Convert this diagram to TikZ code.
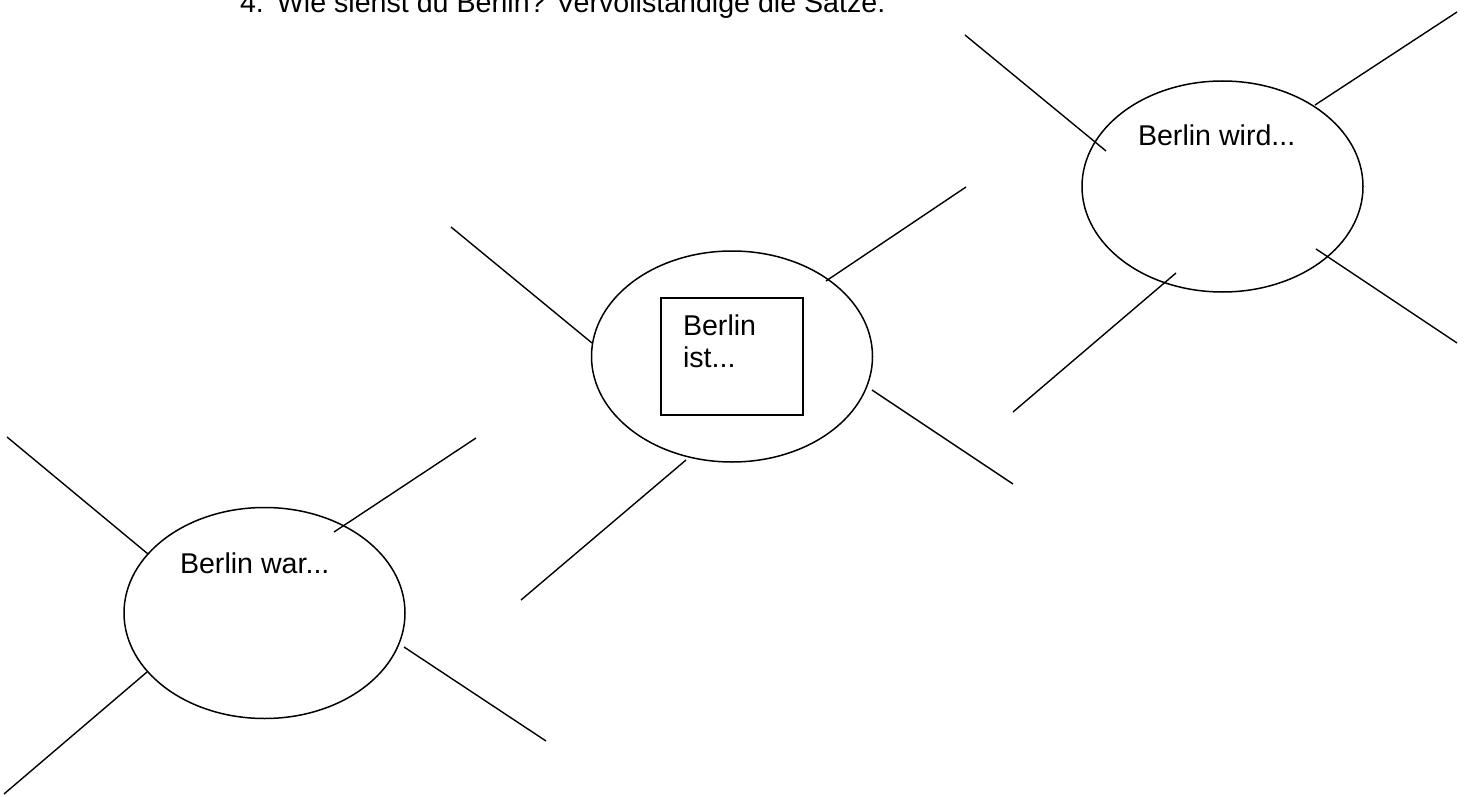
\documentclass[tikz,border=0pt]{standalone}
\usepackage{fontspec}
\setmainfont{Liberation Sans}
\usetikzlibrary{shapes.geometric}

\tikzset{
  bubble/.style={draw, ellipse, line width=1.5pt, inner sep=0pt, outer sep=0pt,
                 minimum width=281pt, minimum height=211pt},
  spoke/.style={line width=1.4pt},
  frame/.style={draw, line width=1.4pt, inner sep=0pt, outer sep=0pt,
                minimum width=142pt, minimum height=117pt},
  label/.style={anchor=base west, inner sep=0pt, outer sep=0pt,
                font=\fontsize{28.6}{32}\selectfont},
}

\begin{document}
\begin{tikzpicture}[x=1pt, y=-1pt]
  \useasboundingbox (0,0) rectangle (1465,797);

  % heading, partly above the top edge
  \node[label] (title) at (240,13)
    {\makebox[37pt][l]{4.}Wie siehst du Berlin? Vervollständige die Sätze:};

  % the three bubbles
  \node[bubble] (war)  at (264.5,613) {};
  \node[bubble] (ist)  at (732,356.5) {};
  \node[bubble] (wird) at (1222.5,186.5) {};

  % square inside the middle bubble
  \node[frame] (box) at (732,356.5) {};

  % bubble texts
  \node[label] (twar)  at (180,573) {Berlin war...};
  \node[label] (tist)  at (683,335) {Berlin};
  \node[label] (tist2) at (683,367) {ist...};
  \node[label] (twird) at (1138,146) {Berlin wird...};

  % spoke end points: past bubble "war"
  \coordinate (w1a) at (148,554);  \coordinate (w1b) at (7,437);
  \coordinate (w2a) at (334,532);  \coordinate (w2b) at (476,438);
  \coordinate (w3a) at (147,672);  \coordinate (w3b) at (4,794);
  \coordinate (w4a) at (404,647);  \coordinate (w4b) at (546,741);

  % spoke end points: present bubble "ist"
  \coordinate (i1a) at (592,343);  \coordinate (i1b) at (451,227);
  \coordinate (i2a) at (826,281);  \coordinate (i2b) at (966,187);
  \coordinate (i3a) at (686,460);  \coordinate (i3b) at (521,600);
  \coordinate (i4a) at (872,390);  \coordinate (i4b) at (1013,484);

  % spoke end points: future bubble "wird"
  \coordinate (f1a) at (1106,151); \coordinate (f1b) at (965,35);
  \coordinate (f2a) at (1315,105); \coordinate (f2b) at (1457,12);
  \coordinate (f3a) at (1176,273); \coordinate (f3b) at (1013,412);
  \coordinate (f4a) at (1316,249); \coordinate (f4b) at (1457,343);

  \foreach \s in {w,i,f}
    \foreach \k in {1,2,3,4}
      \draw[spoke] (\s\k a) -- (\s\k b);
\end{tikzpicture}
\end{document}
